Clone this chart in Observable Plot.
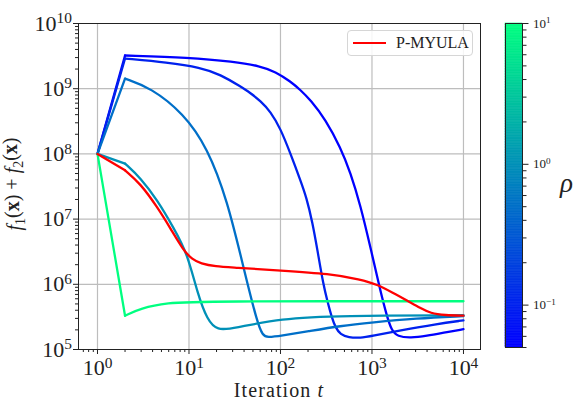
<!DOCTYPE html>
<html>
<head>
<meta charset="utf-8">
<script src="https://cdn.jsdelivr.net/npm/d3@7"></script>
<script src="https://cdn.jsdelivr.net/npm/@observablehq/plot@0.6"></script>
<style>
  html, body { margin: 0; padding: 0; background: #fff; }
  #chart { position: relative; width: 579px; height: 402px; font-family: "Liberation Serif", "DejaVu Serif", serif; }
  #chart svg { position: absolute; top: 0; }
  .legend {
    position: absolute; left: 347px; top: 30px; width: 126px; height: 26px;
    box-sizing: border-box; border: 1px solid #d6d6d6; border-radius: 4px;
    background: rgba(255,255,255,0.85); display: flex; align-items: center;
  }
  .legend .swatch { display: inline-block; width: 33px; height: 2.6px; margin-left: 5px; background: #ff0000; }
  .legend .name { margin-left: 10px; font-size: 16px; color: #222; }
</style>
</head>
<body>
<div id="chart">
  <div class="legend"><span class="swatch"></span><span class="name">P-MYULA</span></div>
</div>
<script>
// Objective f1(x) + f2(x) along the iterations, one run per step parameter rho.
// Each series is a list of [iteration t, objective value].
const rho005 = [[1,1e8],[2,3.23e9],[10,3.01e9],[30.6,2.61e9],[60.4,2.22e9],[88.2,1.82e9],[128.6,1.29e9],[165.4,9.55e8],[212.8,6.71e8],[310.4,3.37e8],[452.6,1.25e8],[582,5.18e7],[749,1.62e7],[963,3.67e6],[1239,7.76e5],[1440,3.44e5],[1634,1.96e5],[1900,1.58e5],[2636,1.5e5],[4000,1.62e5],[6000,1.8e5],[10000,2.05e5]];
const rho01  = [[1,1e8],[2,2.9e9],[5.82,2.52e9],[13.36,2.11e9],[22.1,1.65e9],[36.5,1.08e9],[47,8.59e8],[60.4,6.48e8],[77.8,4.47e8],[100,2.45e8],[128.6,1.01e8],[165.4,3.91e7],[192.4,2.14e7],[223.7,8.87e6],[253.8,3.3e6],[295.1,9.58e5],[326.4,5.45e5],[360.8,3.21e5],[399,2.17e5],[452.6,1.7e5],[553.6,1.53e5],[749,1.5e5],[1000,1.62e5],[2000,1.95e5],[5000,2.45e5],[10000,2.8e5]];
const rho05  = [[1,1e8],[2,1.43e9],[3.8,1.04e9],[8.7,4.2e8],[15.9,1.25e8],[26.3,1.93e7],[39.4,1.81e6],[56,2.5e5],[64,1.65e5],[72,1.53e5],[100,1.62e5],[200,1.9e5],[450,2.3e5],[1000,2.6e5],[3000,3e5],[10000,3.25e5]];
const rho1   = [[1,1e8],[2,7.1e7],[2.95,4.3e7],[4.53,1.93e7],[6.77,7.4e6],[9.6,2.97e6],[12.4,7.2e5],[15.9,2.8e5],[20.4,1.96e5],[30.6,2.1e5],[100,3e5],[450,3.3e5],[10000,3.35e5]];
const rho10  = [[1,1e8],[2,3.3e5],[2.95,4.3e5],[5.8,5.2e5],[13.4,5.5e5],[10000,5.5e5]];
const pmyula = [[1,1e8],[2,5.6e7],[2.95,3.5e7],[4.53,1.51e7],[6.27,7.2e6],[8.7,3.3e6],[10.9,2.4e6],[13.4,2.08e6],[19.5,1.87e6],[30.6,1.81e6],[100,1.63e6],[350,1.45e6],[745,1.19e6],[1150,9.9e5],[1660,7.5e5],[2430,5.6e5],[3400,4.3e5],[4360,3.6e5],[6290,3.35e5],[10000,3.3e5]];

const rhoValues = [0.05, 0.1, 0.5, 1, 10];
const rhoSeries = [rho005, rho01, rho05, rho1, rho10];

// Axis ticks
const xDecades = [1, 10, 100, 1000, 10000];
const yDecades = [1e5, 1e6, 1e7, 1e8, 1e9, 1e10];
const rhoDecades = [0.1, 1, 10];

function minorTicks(lo, hi) {
  const out = [];
  for (let e = Math.floor(Math.log10(lo)); e <= Math.ceil(Math.log10(hi)); e++) {
    for (let m = 2; m <= 9; m++) {
      const v = m * Math.pow(10, e);
      if (v >= lo && v <= hi) out.push(v);
    }
  }
  return out;
}

const winter = d3.interpolateRgb("#0000ff", "#00ff80");
const colorOpts = {type: "log", domain: [0.05, 10], interpolate: winter};

const rows = rhoValues.flatMap((rho, k) => rhoSeries[k].map(([t, v], i) => ({rho, t, v, i})));
const redRows = pmyula.map(([t, v], i) => ({t, v, i}));

const powerLabel = d => "10^" + Math.round(Math.log10(d));
const blank = () => "";
const ink = "#222";
const serif = "'Liberation Serif', 'DejaVu Serif', serif";
const lw = 2.3;

const xDomain = [0.62, 15350];

const main = Plot.plot({
  width: 579, height: 402,
  marginLeft: 78, marginRight: 99, marginTop: 23, marginBottom: 53,
  style: {fontFamily: serif, fontSize: "22px", color: ink, background: "transparent"},
  x: {type: "log", domain: xDomain},
  y: {type: "log", domain: [1e5, 1e10]},
  color: colorOpts,
  marks: [
    Plot.gridX(xDecades, {stroke: "#bdbdbd", strokeOpacity: 1, strokeWidth: 1.2}),
    Plot.gridY(yDecades, {stroke: "#bdbdbd", strokeOpacity: 1, strokeWidth: 1.2}),
    // first step (t = 1 -> 2) is a straight segment, the rest is smooth
    Plot.line(rows.filter(d => d.i <= 1), {x: "t", y: "v", z: "rho", stroke: "rho", strokeWidth: lw, curve: "linear"}),
    Plot.line(rows.filter(d => d.i >= 1), {x: "t", y: "v", z: "rho", stroke: "rho", strokeWidth: lw, curve: "basis"}),
    Plot.line(redRows.filter(d => d.i <= 1), {x: "t", y: "v", stroke: "#ff0000", strokeWidth: lw, curve: "linear"}),
    Plot.line(redRows.filter(d => d.i >= 1), {x: "t", y: "v", stroke: "#ff0000", strokeWidth: lw, curve: "basis"}),
    Plot.frame({stroke: ink, strokeWidth: 1}),
    Plot.axisX(xDecades, {tickSize: 5, tickPadding: 5, tickFormat: powerLabel, label: null, fontSize: 22}),
    Plot.axisX(minorTicks(...xDomain), {tickSize: 3, tickFormat: blank, label: null}),
    Plot.axisY(yDecades, {tickSize: 5, tickPadding: 1.5, tickFormat: powerLabel, label: null, fontSize: 22}),
    Plot.axisY(minorTicks(1e5, 1e10), {tickSize: 3, tickFormat: blank, label: null})
  ]
});

// colour bar for rho
const cmin = 0.05, cmax = 10, nSteps = 200;
const steps = d3.range(nSteps).map(k => {
  const lo = cmin * Math.pow(cmax / cmin, k / nSteps);
  const hi = cmin * Math.pow(cmax / cmin, (k + 1) / nSteps);
  return {lo, hi, mid: Math.sqrt(lo * hi)};
});

const cbar = Plot.plot({
  width: 100, height: 402,
  marginLeft: 26, marginRight: 57, marginTop: 23, marginBottom: 55,
  style: {fontFamily: serif, fontSize: "13px", color: ink, background: "transparent"},
  x: {domain: [0, 1], axis: null},
  y: {type: "log", domain: [cmin, cmax], axis: null},
  color: colorOpts,
  marks: [
    Plot.rect(steps, {x1: 0, x2: 1, y1: "lo", y2: "hi", fill: "mid", stroke: "mid", strokeWidth: 0.6}),
    Plot.frame({stroke: ink, strokeWidth: 1}),
    Plot.axisY(rhoDecades, {anchor: "right", tickSize: 5.5, tickPadding: 5, tickFormat: powerLabel, label: null, fontSize: 13}),
    Plot.axisY(minorTicks(cmin, cmax), {anchor: "right", tickSize: 3.5, tickFormat: blank, label: null}),
    Plot.text(["ρ"], {frameAnchor: "right", dx: 44, dy: -2, textAnchor: "middle", fontSize: 27, fontStyle: "italic", fill: ink})
  ]
});

// turn "10^k" tick labels into a base with a raised exponent
function raiseExponents(svg) {
  d3.select(svg).selectAll("text").each(function () {
    const m = /^10\^(-?\d+)$/.exec(this.textContent);
    if (!m) return;
    const exp = m[1].replace("-", "\u2212");
    const t = d3.select(this);
    t.text(null);
    t.append("tspan").text("10");
    t.append("tspan").attr("dy", "-0.48em").attr("font-size", "0.7em").text(exp);
  });
}
raiseExponents(main);
raiseExponents(cbar);

// axis titles
const s = d3.select(main);
const xt = s.append("text")
  .attr("x", 279).attr("y", 396.5)
  .attr("text-anchor", "middle").attr("font-size", 20).attr("letter-spacing", "1.1px")
  .attr("font-family", serif).attr("fill", ink);
xt.append("tspan").text("Iteration ");
xt.append("tspan").attr("font-style", "italic").text("t");

const yt = s.append("text")
  .attr("transform", "translate(21,184) rotate(-90)")
  .attr("text-anchor", "middle").attr("font-size", 20).attr("font-family", serif).attr("fill", ink);
const parts = [
  ["f", "i"], ["1", "sub"], ["(", ""], ["x", "b"], [") + ", ""],
  ["f", "i"], ["2", "sub"], ["(", ""], ["x", "b"], [")", ""]
];
let shifted = false;
for (const [str, kind] of parts) {
  const sp = yt.append("tspan").text(str);
  if (kind === "i") sp.attr("font-style", "italic");
  if (kind === "b") sp.attr("font-weight", "bold");
  if (kind === "sub") { sp.attr("font-size", "0.7em").attr("dy", "0.3em"); shifted = true; }
  else if (shifted) { sp.attr("dy", "-0.3em"); shifted = false; }
}

const chart = document.getElementById("chart");
main.style.left = "0px";
cbar.style.left = "479px";
chart.insertBefore(main, chart.firstChild);
chart.insertBefore(cbar, chart.firstChild.nextSibling);
</script>
</body>
</html>
